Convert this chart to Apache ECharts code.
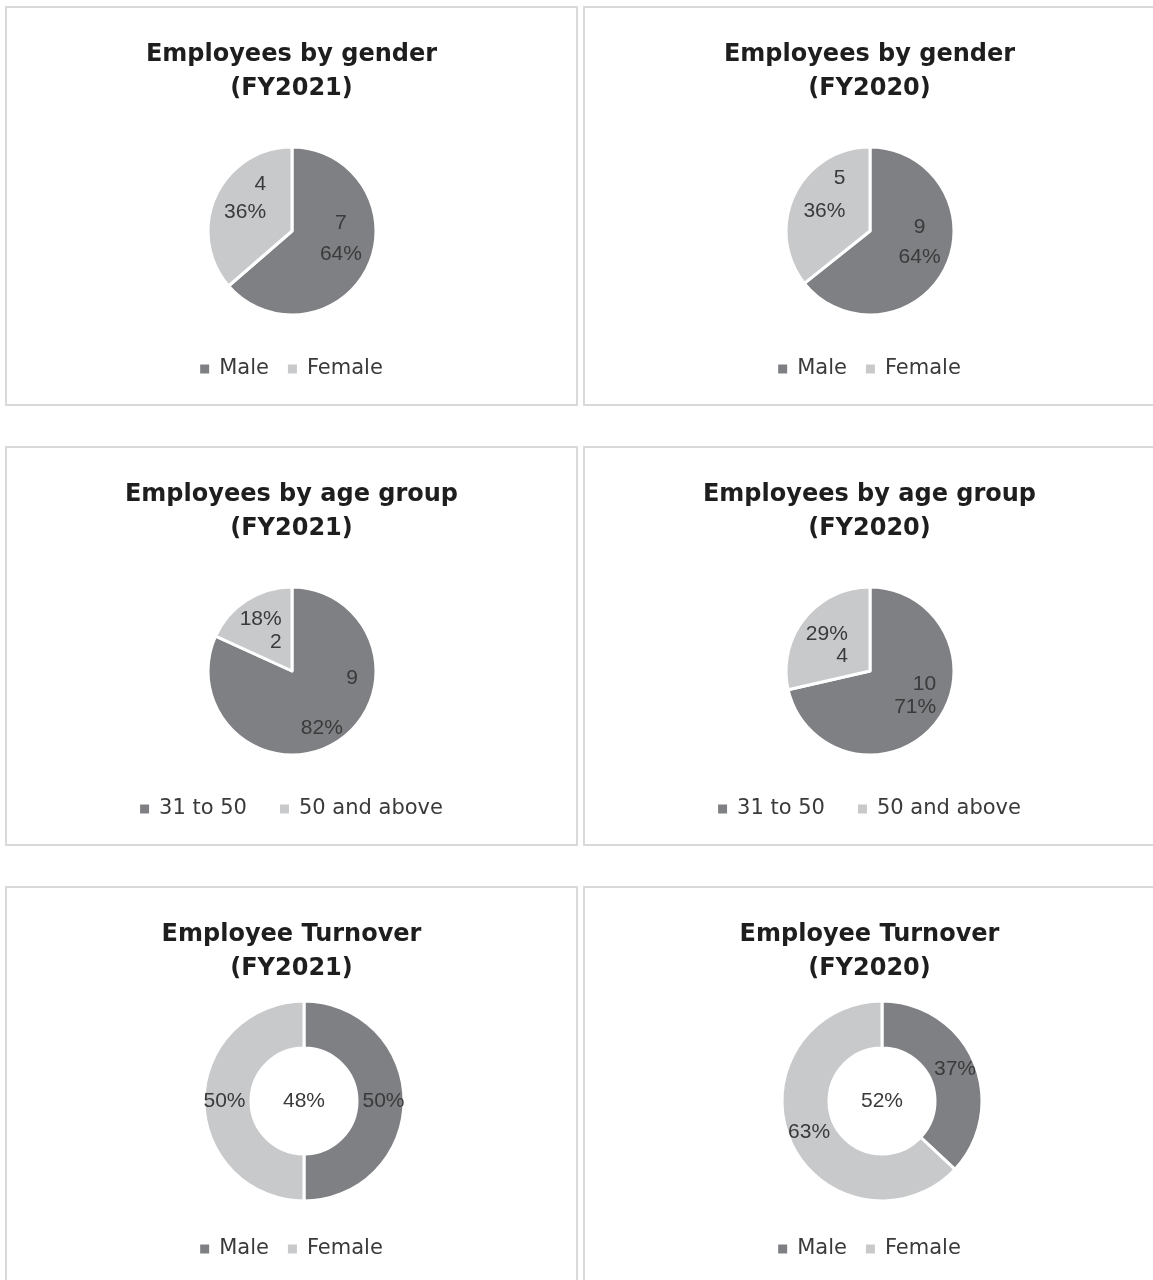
<!DOCTYPE html>
<html>
<head>
<meta charset="utf-8">
<script src="https://cdn.jsdelivr.net/npm/echarts@6/dist/echarts.min.js"></script>
<style>
  html, body { margin: 0; padding: 0; background: #fff; overflow: hidden; width: 1153px; height: 1280px; }
  .panel { position: absolute; width: 573px; height: 400px; box-sizing: border-box; border: 2px solid #d9d9d9; background: #fff; }
  .panel > div { width: 569px; height: 396px; }
</style>
</head>
<body>
<div class="panel" style="left:5px;top:6px"><div id="genderFY2021"></div></div>
<div class="panel" style="left:583px;top:6px"><div id="genderFY2020"></div></div>
<div class="panel" style="left:5px;top:446px"><div id="ageFY2021"></div></div>
<div class="panel" style="left:583px;top:446px"><div id="ageFY2020"></div></div>
<div class="panel" style="left:5px;top:886px"><div id="turnoverFY2021"></div></div>
<div class="panel" style="left:583px;top:886px"><div id="turnoverFY2020"></div></div>
<script>
// ---- data ----
const genderNames = ['Male', 'Female'];
const genderFY2021 = [7, 4];
const genderFY2020 = [9, 5];

const ageNames = ['31 to 50', '50 and above'];
const ageFY2021 = [9, 2];
const ageFY2020 = [10, 4];

const turnoverNames = ['Male', 'Female'];
const turnoverFY2021 = [50, 50];
const turnoverFY2020 = [37, 63];
const turnoverRateFY2021 = 48;
const turnoverRateFY2020 = 52;

// ---- styling ----
const sliceColors = ['#7f8084', '#c8c9cb'];
const labelFont = { fontFamily: 'Liberation Sans', fontSize: 21, color: '#3a3a3a' };
const titleFont = 'DejaVu Sans';

function buildChart(domId, cfg) {
  const chart = echarts.init(document.getElementById(domId), null, { renderer: 'canvas' });
  // one rich style per label line, so each slice can order/align its own lines
  const rich = {};
  (cfg.labels || []).forEach((s, i) => {
    s.order.forEach((k, j) => {
      rich['l' + i + '_' + j] = Object.assign({}, labelFont, {
        align: s.align[j],
        lineHeight: s.lh,
        padding: (s.pad && s.pad[j]) || 0
      });
    });
  });
  const data = cfg.names.map((n, i) => ({ name: n, value: cfg.values[i] }));
  const series = {
    type: 'pie',
    center: cfg.center,
    radius: cfg.radius,
    startAngle: 90,
    clockwise: true,
    percentPrecision: 0,
    animation: false,
    silent: true,
    avoidLabelOverlap: false,
    color: sliceColors,
    itemStyle: { borderColor: '#ffffff', borderWidth: 3 },
    emphasis: { disabled: true },
    label: Object.assign({
      show: true,
      position: 'inside',
      formatter: cfg.labels
        ? (p) => cfg.labels[p.dataIndex].order
            .map((k, j) => '{l' + p.dataIndex + '_' + j + '|' + (k === 'v' ? p.value : p.percent + '%') + '}')
            .join('\n')
        : '{d}%',
      rich: rich
    }, labelFont),
    labelLine: { show: false },
    labelLayout: cfg.labels
      ? (p) => ({ dx: cfg.labels[p.dataIndex].dx, dy: cfg.labels[p.dataIndex].dy })
      : undefined,
    data: data
  };
  const option = {
    animation: false,
    title: {
      text: cfg.title,
      left: 'center',
      top: 30,
      padding: 0,
      textStyle: { fontFamily: titleFont, fontWeight: 'bold', fontSize: 24, color: '#1e1e1e', lineHeight: 34 }
    },
    legend: {
      data: cfg.names,
      left: 'center',
      top: 349,
      padding: 0,
      icon: 'rect',
      itemWidth: 9,
      itemHeight: 9,
      itemGap: cfg.legendGap,
      selectedMode: false,
      itemStyle: { borderWidth: 0 },
      textStyle: { fontFamily: titleFont, fontSize: 21, color: '#3a3a3a', lineHeight: 24, padding: [0, 0, 0, 5] }
    },
    series: [series]
  };
  if (cfg.centerText != null) {
    option.graphic = [{
      type: 'text',
      x: cfg.center[0],
      y: cfg.center[1],
      silent: true,
      style: {
        text: cfg.centerText + '%',
        font: '21px "Liberation Sans"',
        fill: '#3a3a3a',
        textAlign: 'center',
        textVerticalAlign: 'middle'
      }
    }];
  }
  chart.setOption(option);
}

const pieCenter = [285, 223];
const pieRadius = [0, 84];
const ringCenter = [297, 213];
const ringRadius = [53, 100];

buildChart('genderFY2021', {
  title: 'Employees by gender\n(FY2021)', names: genderNames, values: genderFY2021,
  center: pieCenter, radius: pieRadius, legendGap: 19,
  labels: [
    { order: ['v', 'p'], align: ['center', 'center'], lh: 31, dx: 8, dy: -11 },
    { order: ['v', 'p'], align: ['right', 'right'], lh: 28, dx: -6, dy: -14 }
  ]
});
buildChart('genderFY2020', {
  title: 'Employees by gender\n(FY2020)', names: genderNames, values: genderFY2020,
  center: pieCenter, radius: pieRadius, legendGap: 19,
  labels: [
    { order: ['v', 'p'], align: ['center', 'center'], lh: 30, dx: 9, dy: -8 },
    { order: ['v', 'p'], align: ['right', 'right'], lh: 33, dx: -5, dy: -17 }
  ]
});
buildChart('ageFY2021', {
  title: 'Employees by age group\n(FY2021)', names: ageNames, values: ageFY2021,
  center: pieCenter, radius: pieRadius, legendGap: 33,
  labels: [
    { order: ['v', 'p'], align: ['right', 'left'], lh: 50, dx: 13, dy: -6, pad: [0, [0, 15, 0, 0]] },
    { order: ['p', 'v'], align: ['right', 'right'], lh: 23, dx: -7, dy: -2 }
  ]
});
buildChart('ageFY2020', {
  title: 'Employees by age group\n(FY2020)', names: ageNames, values: ageFY2020,
  center: pieCenter, radius: pieRadius, legendGap: 33,
  labels: [
    { order: ['v', 'p'], align: ['right', 'right'], lh: 23, dx: 10, dy: -3 },
    { order: ['p', 'v'], align: ['right', 'right'], lh: 22, dx: -8, dy: 2 }
  ]
});
buildChart('turnoverFY2021', {
  title: 'Employee Turnover\n(FY2021)', names: turnoverNames, values: turnoverFY2021,
  center: ringCenter, radius: ringRadius, legendGap: 19, centerText: turnoverRateFY2021
});
buildChart('turnoverFY2020', {
  title: 'Employee Turnover\n(FY2020)', names: turnoverNames, values: turnoverFY2020,
  center: ringCenter, radius: ringRadius, legendGap: 19, centerText: turnoverRateFY2020
});
</script>
</body>
</html>
